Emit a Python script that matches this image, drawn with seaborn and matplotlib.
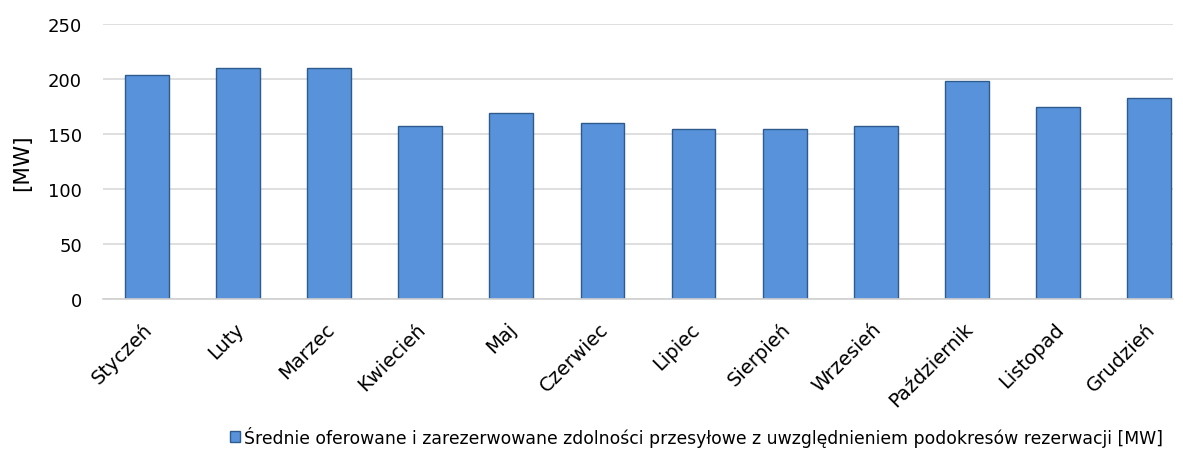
import matplotlib
matplotlib.use('Agg')
import matplotlib.pyplot as plt
import matplotlib.transforms as mtransforms
import seaborn as sns
import pandas as pd

months = ['Styczeń', 'Luty', 'Marzec', 'Kwiecień', 'Maj', 'Czerwiec', 'Lipiec',
          'Sierpień', 'Wrzesień', 'Październik', 'Listopad', 'Grudzień']
capacity_mw = [203.5, 210, 210, 157, 169, 160, 155, 155, 157.5, 198, 175, 183]
series_name = ('Średnie oferowane i zarezerwowane zdolności przesyłowe '
               'z uwzględnieniem podokresów rezerwacji [MW]')

df = pd.DataFrame({'month': months, 'value': capacity_mw})

sns.set_theme(style='white')
plt.rcParams['font.family'] = ['DejaVu Sans']
plt.rcParams['text.color'] = 'black'

fig, ax = plt.subplots(figsize=(11.83, 4.64), dpi=100)
fig.subplots_adjust(left=0.087, right=0.9915, top=0.946, bottom=0.353)

sns.barplot(data=df, x='month', y='value', ax=ax, color='#5792DB',
            width=0.48, edgecolor='#2F5A8E', linewidth=1.0, saturation=1,
            label=series_name)
handles, labels = ax.get_legend_handles_labels()
if ax.get_legend() is not None:
    ax.get_legend().remove()

ax.set_ylim(0, 250)
ax.set_yticks(range(0, 251, 50))
ax.yaxis.grid(True, color='#D9D9D9', linewidth=1.2)
ax.set_axisbelow(True)
for s in ['top', 'right', 'left']:
    ax.spines[s].set_visible(False)
ax.spines['bottom'].set_color('#D0D0D0')
ax.spines['bottom'].set_linewidth(1.2)
ax.set_xlim(-0.48, 11.26)

ax.set_xlabel('')
ax.set_ylabel('[MW]', fontsize=15.5, color='black')
ax.yaxis.set_label_coords(-0.066, 0.5)
ax.tick_params(axis='y', labelsize=13, colors='black', pad=15, length=0)
ax.tick_params(axis='x', labelsize=14, colors='black', pad=19, length=0)
offset = mtransforms.ScaledTranslation(2 / 72, 0, fig.dpi_scale_trans)
for lbl in ax.get_xticklabels():
    lbl.set_rotation(45)
    lbl.set_ha('right')
    lbl.set_va('center')
    lbl.set_rotation_mode('anchor')
    lbl.set_transform(lbl.get_transform() + offset)

fig.legend(handles, labels, loc='center left', bbox_to_anchor=(0.181, 0.058),
           frameon=False, fontsize=12.45, handlelength=0.6, handleheight=0.6,
           handletextpad=0.25, labelcolor='black')

plt.savefig('out.png', dpi=100)
